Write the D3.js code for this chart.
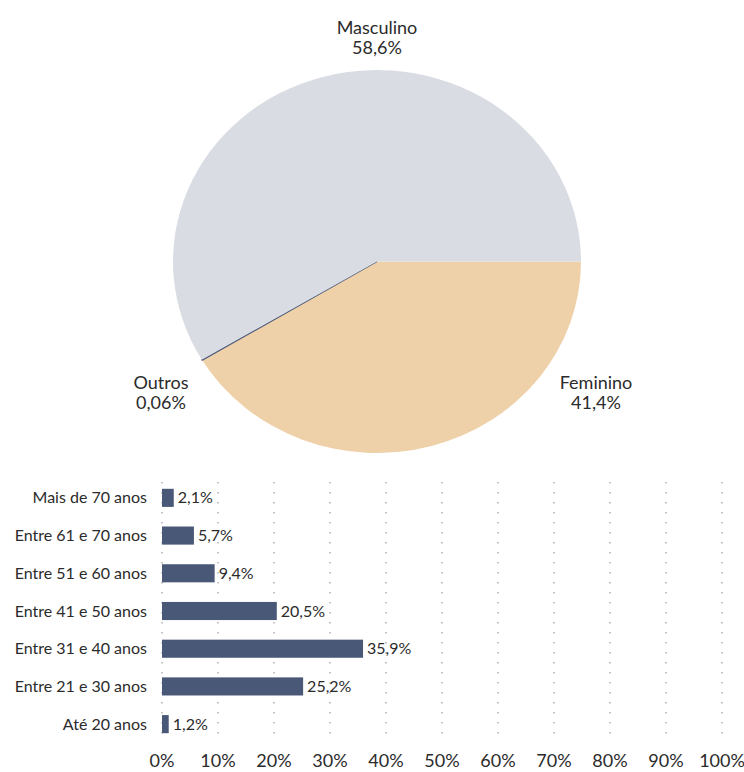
<!DOCTYPE html>
<html>
<head>
<meta charset="utf-8">
<script src="https://cdn.jsdelivr.net/npm/d3@7"></script>
<style>
  html, body { margin: 0; padding: 0; background: #ffffff; }
  svg { display: block; }
  text { font-family: "Lato", "DejaVu Sans", sans-serif; fill: #2b2b2b; }
</style>
</head>
<body>
<svg id="chart" width="744" height="772"></svg>
<script>
// Gender split (percent)
const genderLabels = ["Feminino", "Outros", "Masculino"];
const genderValues = [41.4, 0.06, 58.6];
const genderText = ["41,4%", "0,06%", "58,6%"];
const genderColors = ["#efd1a9", "#4a5878", "#d9dde3"];

// Age brackets (percent)
const ageLabels = ["Mais de 70 anos", "Entre 61 e 70 anos", "Entre 51 e 60 anos",
  "Entre 41 e 50 anos", "Entre 31 e 40 anos", "Entre 21 e 30 anos", "Até 20 anos"];
const ageValues = [2.1, 5.7, 9.4, 20.5, 35.9, 25.2, 1.2];
const ageText = ["2,1%", "5,7%", "9,4%", "20,5%", "35,9%", "25,2%", "1,2%"];
const tickValues = [0, 10, 20, 30, 40, 50, 60, 70, 80, 90, 100];
const tickText = ["0%", "10%", "20%", "30%", "40%", "50%", "60%", "70%", "80%", "90%", "100%"];

const svg = d3.select("#chart");

// ---- Pie ----
const cx = 377, cy = 261.5, rx = 204, ry = 191.5;
const pie = d3.pie().sort(null).value(d => d)
  .startAngle(Math.PI / 2).endAngle(Math.PI / 2 + 2 * Math.PI);
const arcs = pie(genderValues);
const arc = d3.arc().innerRadius(0).outerRadius(rx);

const pieG = svg.append("g")
  .attr("transform", `translate(${cx},${cy}) scale(1,${ry / rx})`);
pieG.selectAll("path").data(arcs).join("path")
  .attr("d", arc)
  .attr("fill", (d, i) => genderColors[i])
  .attr("stroke", (d, i) => i === 1 ? genderColors[1] : "none")
  .attr("stroke-width", 1.2);

// Pie labels
const pieLabelPos = [
  { x: 596, y: 389, anchor: "middle" },
  { x: 161, y: 389, anchor: "middle" },
  { x: 377, y: 34, anchor: "middle" }
];
genderLabels.forEach((name, i) => {
  const p = pieLabelPos[i];
  const t = svg.append("text")
    .attr("x", p.x).attr("y", p.y)
    .attr("text-anchor", p.anchor)
    .style("font-size", "18px");
  t.append("tspan").attr("x", p.x).text(name);
  t.append("tspan").attr("x", p.x).attr("dy", 20).text(genderText[i]);
});

// ---- Bars ----
const x = d3.scaleLinear().domain([0, 100]).range([162, 722]);
const y = d3.scaleBand().domain(ageLabels).range([479, 743]).paddingInner(0.52).paddingOuter(0.26);

// dotted grid
svg.append("g").selectAll("line").data(tickValues).join("line")
  .attr("x1", d => x(d)).attr("x2", d => x(d))
  .attr("y1", 482).attr("y2", 742)
  .attr("stroke", "#888888")
  .attr("stroke-width", 1)
  .attr("stroke-dasharray", "1.5,8.5");

svg.append("g").selectAll("rect").data(ageValues).join("rect")
  .attr("x", x(0))
  .attr("y", (d, i) => y(ageLabels[i]))
  .attr("width", d => x(d) - x(0))
  .attr("height", y.bandwidth())
  .attr("fill", "#4a5878");

svg.append("g").selectAll("text").data(ageValues).join("text")
  .attr("x", d => x(d) + 4)
  .attr("y", (d, i) => y(ageLabels[i]) + y.bandwidth() / 2)
  .attr("dy", "0.35em")
  .style("font-size", "16px")
  .text((d, i) => ageText[i]);

svg.append("g").selectAll("text").data(ageLabels).join("text")
  .attr("x", 147)
  .attr("y", d => y(d) + y.bandwidth() / 2)
  .attr("dy", "0.35em")
  .attr("text-anchor", "end")
  .style("font-size", "16px")
  .text(d => d);

// x axis labels
svg.append("g").selectAll("text").data(tickValues).join("text")
  .attr("x", d => x(d))
  .attr("y", 761)
  .attr("dy", "0.35em")
  .attr("text-anchor", "middle")
  .style("font-size", "18px")
  .text((d, i) => tickText[i]);
</script>
</body>
</html>
